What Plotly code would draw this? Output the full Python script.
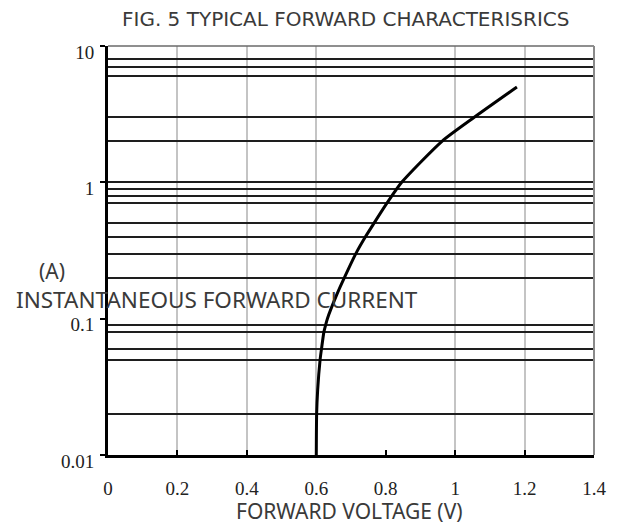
import plotly.graph_objects as go

# ---- data ----
voltage = [0.600, 0.601, 0.604, 0.611, 0.615, 0.622, 0.627, 0.632, 0.659,
           0.681, 0.714, 0.742, 0.766, 0.803, 0.846, 0.962, 1.055, 1.178]
current = [0.01, 0.02, 0.03, 0.05, 0.06, 0.08, 0.09, 0.1, 0.15,
           0.2, 0.3, 0.4, 0.5, 0.7, 1.0, 2.0, 3.0, 5.0]

x_ticks = [0, 0.2, 0.4, 0.6, 0.8, 1.0, 1.2, 1.4]
x_tick_labels = ["0", "0.2", "0.4", "0.6", "0.8", "1", "1.2", "1.4"]
y_ticks = [0.01, 0.1, 1, 10]
y_tick_labels = ["0.01", "0.1", "1", "10"]

x_grid = [0.2, 0.4, 0.6, 1.0, 1.2]
y_grid = [0.02, 0.05, 0.06, 0.08, 0.09, 0.2, 0.3, 0.4, 0.5, 0.7, 0.8, 0.9,
          1, 2, 3, 6, 7, 8]

title_text = "FIG. 5 TYPICAL FORWARD CHARACTERISRICS"
x_title = "FORWARD VOLTAGE (V)"
y_unit = "(A)"
y_title = "INSTANTANEOUS FORWARD CURRENT"

TEXT = "#3a3a3a"
SANS = "Noto Sans"

fig = go.Figure()
fig.add_trace(go.Scatter(
    x=voltage, y=current, mode="lines",
    line=dict(color="black", width=3, shape="spline", smoothing=0.6),
    showlegend=False, hoverinfo="skip"))
# helper trace so the grid-only overlay axes exist
fig.add_trace(go.Scatter(x=[None], y=[None], xaxis="x2", yaxis="y2",
                         showlegend=False, hoverinfo="skip"))

fig.update_layout(
    width=610, height=516,
    margin=dict(l=100, r=22, t=38, b=69),
    paper_bgcolor="white", plot_bgcolor="white",
    xaxis=dict(range=[0, 1.4], tickmode="array", tickvals=x_ticks,
               ticktext=x_tick_labels, ticks="inside", ticklen=5,
               tickwidth=1.5, tickcolor="black", showgrid=False,
               zeroline=False, showline=True, linecolor="black",
               linewidth=2.5, ticklabelstandoff=14,
               tickfont=dict(family="Liberation Serif", size=19,
                             color="#222")),
    yaxis=dict(type="log", range=[-2, 1], tickmode="array",
               tickvals=y_ticks, ticktext=y_tick_labels, ticks="outside",
               ticklen=5, tickwidth=1.5, tickcolor="black", showgrid=False,
               zeroline=False, showline=True, linecolor="black",
               linewidth=3, ticklabelstandoff=2, ticklabelshift=6,
               tickfont=dict(family="Liberation Serif", size=19,
                             color="#222")),
    xaxis2=dict(overlaying="x", anchor="y", range=[0, 1.4],
                tickmode="array", tickvals=x_grid, showgrid=True,
                gridcolor="#c4c4c4", gridwidth=1.5, showticklabels=False,
                ticks="", showline=False, zeroline=False),
    yaxis2=dict(overlaying="y", anchor="x", side="left", type="log",
                range=[-2, 1], tickmode="array", tickvals=y_grid,
                showgrid=True, gridcolor="#1e1e1e", gridwidth=2,
                showticklabels=False, ticks="", showline=False,
                zeroline=False),
    shapes=[
        dict(type="line", xref="paper", yref="paper", x0=0, x1=1, y0=1, y1=1,
             line=dict(color="#6a6a6a", width=1.5)),
        dict(type="line", xref="paper", yref="paper", x0=1, x1=1, y0=0, y1=1,
             line=dict(color="#8a8a8a", width=2)),
    ],
    annotations=[
        dict(text=title_text, xref="paper", yref="paper", x=0.488, y=1.066,
             xanchor="center", yanchor="middle", showarrow=False,
             font=dict(family="DejaVu Sans", size=20, color=TEXT)),
        dict(text=x_title, xref="paper", yref="paper", x=0.496, y=-0.137,
             xanchor="center", yanchor="middle", showarrow=False,
             font=dict(family=SANS, size=21, color=TEXT)),
        dict(text=y_unit, xref="paper", yref="paper", x=-0.1148, y=0.45,
             xanchor="center", yanchor="middle", showarrow=False,
             font=dict(family=SANS, size=21, color=TEXT)),
        dict(text=y_title, xref="paper", yref="paper", x=-0.1926, y=0.3814,
             xanchor="left", yanchor="middle", showarrow=False,
             font=dict(family=SANS, size=22.5, color=TEXT)),
    ],
)

fig.write_html("out.html")
